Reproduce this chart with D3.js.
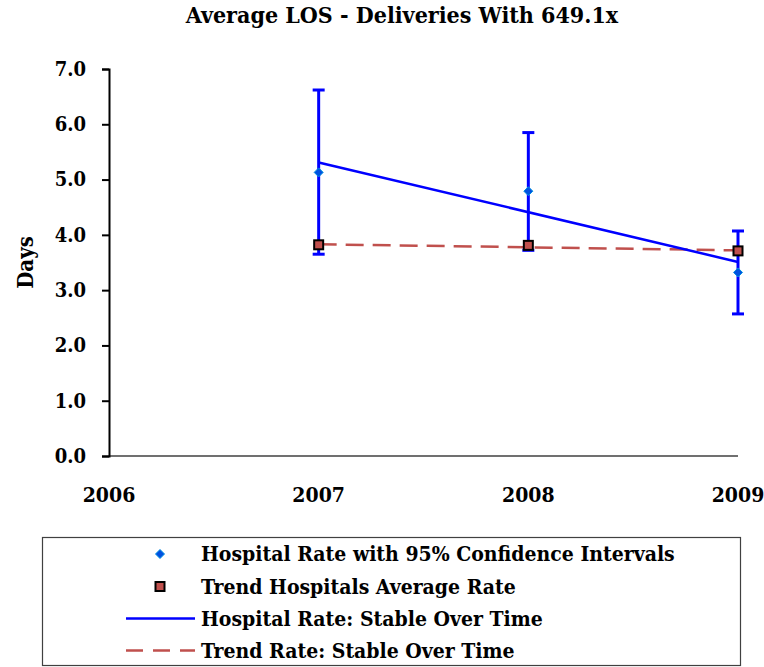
<!DOCTYPE html>
<html lang="en">
<head>
<meta charset="UTF-8">
<title>Average LOS - Deliveries With 649.1x</title>
<style>
    body { margin: 0; background: #fff; }
    svg text { font-family: "DejaVu Serif Condensed", "DejaVu Serif", serif; font-stretch: condensed; font-weight: bold; fill: #000; }
</style>
</head>
<body>
<svg id="chart" width="764" height="667"></svg>
<script src="https://d3js.org/d3.v7.min.js"></script>
<script>
const years = [2007, 2008, 2009];
const hospitalRate = [5.13, 4.79, 3.32];
const ciLower = [3.65, 3.72, 2.57];
const ciUpper = [6.62, 5.85, 4.07];
const trendAvg = [3.82, 3.81, 3.71];
// fitted lines, read at the first and last year
const hospitalTrend = [5.31, 3.51];
const avgTrend = [3.83, 3.72];
const xTicks = [2006, 2007, 2008, 2009];
const yTicks = [0, 1, 2, 3, 4, 5, 6, 7];
const legendLabels = [
    "Hospital Rate with 95% Confidence Intervals",
    "Trend Hospitals Average Rate",
    "Hospital Rate: Stable Over Time",
    "Trend Rate: Stable Over Time"
];

const blue = "#0000FF";
const red = "#C0504D";
const serif = "'DejaVu Serif Condensed', 'DejaVu Serif', serif";

const svg = d3.select("#chart");

const x = d3.scaleLinear().domain([2006, 2009]).range([109, 738]);
const y = d3.scaleLinear().domain([0, 7]).range([456, 69]);

svg.append("text")
    .attr("x", 402).attr("y", 23)
    .attr("text-anchor", "middle")
    .style("font-size", "23px")
    .text("Average LOS - Deliveries With 649.1x");

// x axis: plain line, labels only
svg.append("line")
    .attr("x1", x(2006)).attr("x2", x(2009))
    .attr("y1", y(0)).attr("y2", y(0))
    .attr("stroke", "#404040").attr("stroke-width", 1.5);

svg.selectAll(".xlab").data(xTicks).join("text")
    .attr("class", "xlab")
    .attr("x", d => x(d)).attr("y", 502)
    .attr("text-anchor", "middle")
    .style("font-size", "21px")
    .text(d => d);

const yAxis = svg.append("g")
    .attr("transform", `translate(${x(2006)},0)`)
    .call(d3.axisLeft(y).tickValues(yTicks).tickFormat(d3.format(".1f")).tickSize(7).tickPadding(16));
yAxis.select(".domain").attr("stroke", "#000").attr("stroke-width", 2);
yAxis.selectAll(".tick line").attr("stroke", "#000").attr("stroke-width", 2);
yAxis.selectAll(".tick text")
    .style("font-size", "20px")
    .style("font-family", serif)
    .style("font-stretch", "condensed")
    .style("font-weight", "bold");

svg.append("text")
    .attr("transform", `translate(33,${y(3.5)}) rotate(-90)`)
    .attr("text-anchor", "middle")
    .style("font-size", "22px")
    .text("Days");

// trend lines
svg.append("line")
    .attr("x1", x(years[0])).attr("x2", x(years[2]))
    .attr("y1", y(avgTrend[0])).attr("y2", y(avgTrend[1]))
    .attr("stroke", red).attr("stroke-width", 2.5)
    .attr("stroke-dasharray", "18,9");

svg.append("line")
    .attr("x1", x(years[0])).attr("x2", x(years[2]))
    .attr("y1", y(hospitalTrend[0])).attr("y2", y(hospitalTrend[1]))
    .attr("stroke", blue).attr("stroke-width", 2.5);

// error bars
const eb = svg.append("g").attr("stroke", blue).attr("stroke-width", 3);
years.forEach((yr, i) => {
    eb.append("line")
        .attr("x1", x(yr)).attr("x2", x(yr))
        .attr("y1", y(ciLower[i])).attr("y2", y(ciUpper[i]));
    [ciLower[i], ciUpper[i]].forEach(v => {
        eb.append("line")
            .attr("x1", x(yr) - 6).attr("x2", x(yr) + 6)
            .attr("y1", y(v)).attr("y2", y(v));
    });
});

// markers
svg.selectAll(".sq").data(years).join("rect")
    .attr("class", "sq")
    .attr("x", d => x(d) - 4.5).attr("y", (d, i) => y(trendAvg[i]) - 4.5)
    .attr("width", 9).attr("height", 9)
    .attr("fill", red).attr("stroke", "#000").attr("stroke-width", 2);

const diamond = "M0,-4.5L4.5,0L0,4.5L-4.5,0Z";
svg.selectAll(".dm").data(years).join("path")
    .attr("class", "dm")
    .attr("d", diamond)
    .attr("transform", (d, i) => `translate(${x(d)},${y(hospitalRate[i])})`)
    .attr("fill", "#0050E0").attr("stroke", "#0090E0").attr("stroke-width", 1);

// legend
const lg = svg.append("g");
lg.append("rect")
    .attr("x", 42.5).attr("y", 537.5)
    .attr("width", 698).attr("height", 128)
    .attr("fill", "none").attr("stroke", "#404040").attr("stroke-width", 1.2);

const rowY = [554, 586.5, 618.5, 650.5];
lg.selectAll(".lt").data(legendLabels).join("text")
    .attr("class", "lt")
    .attr("x", 201).attr("y", (d, i) => rowY[i])
    .attr("dy", "0.35em")
    .style("font-size", "21px")
    .text(d => d);

lg.append("path")
    .attr("d", diamond)
    .attr("transform", `translate(160,${rowY[0]})`)
    .attr("fill", "#0050E0").attr("stroke", "#0090E0").attr("stroke-width", 1);
lg.append("rect")
    .attr("x", 155.5).attr("y", rowY[1] - 4.5)
    .attr("width", 9).attr("height", 9)
    .attr("fill", red).attr("stroke", "#000").attr("stroke-width", 2);
lg.append("line")
    .attr("x1", 126).attr("x2", 195)
    .attr("y1", rowY[2]).attr("y2", rowY[2])
    .attr("stroke", blue).attr("stroke-width", 2.5);
lg.append("line")
    .attr("x1", 126).attr("x2", 195)
    .attr("y1", rowY[3]).attr("y2", rowY[3])
    .attr("stroke", red).attr("stroke-width", 2.5)
    .attr("stroke-dasharray", "17,10");
</script>
</body>
</html>
